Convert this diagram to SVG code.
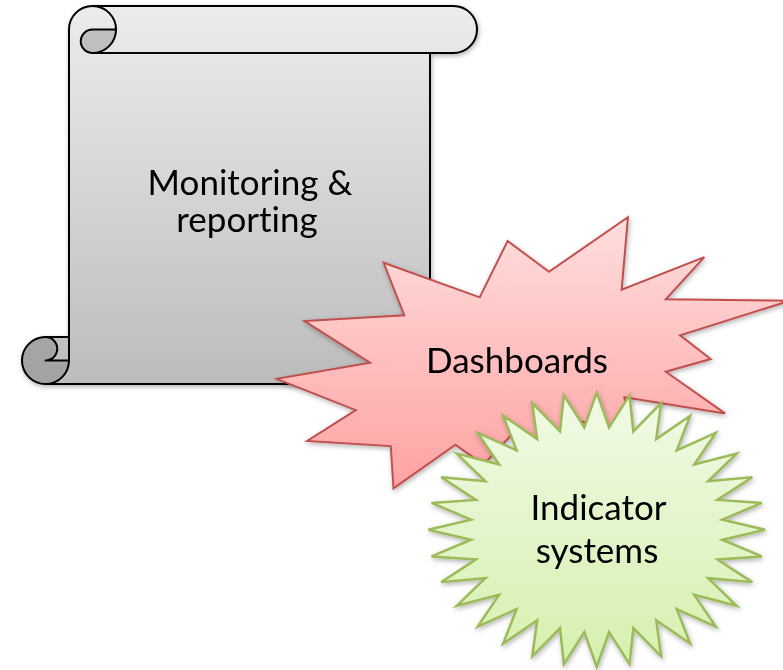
<svg xmlns="http://www.w3.org/2000/svg" width="783" height="670" viewBox="0 0 783 670">
<defs>
<style>
.lbl{font-family:Lato,"Liberation Sans",sans-serif;font-size:35px;fill:#000;text-anchor:middle;font-variant-ligatures:none;font-feature-settings:"liga" 0,"dlig" 0}
.ol{fill:none;stroke:#000;stroke-width:2;stroke-linejoin:round}
</style>
<linearGradient id="gScroll" x1="0" y1="6" x2="0" y2="384" gradientUnits="userSpaceOnUse">
<stop offset="0" stop-color="#ECECEC"/><stop offset="1" stop-color="#BCBCBC"/>
</linearGradient>
<linearGradient id="gCurl" x1="0" y1="6" x2="0" y2="384" gradientUnits="userSpaceOnUse">
<stop offset="0" stop-color="#C2C2C2"/><stop offset="1" stop-color="#A2A2A2"/>
</linearGradient>
<linearGradient id="gRed" x1="0" y1="0" x2="0" y2="1">
<stop offset="0" stop-color="#FFDEDE"/><stop offset="1" stop-color="#FFA2A2"/>
</linearGradient>
<linearGradient id="gGreen" x1="0" y1="0" x2="0" y2="1">
<stop offset="0" stop-color="#F1FAE6"/><stop offset="1" stop-color="#D5F0AE"/>
</linearGradient>
<filter id="sh" x="-10%" y="-10%" width="120%" height="125%">
<feDropShadow dx="1" dy="2" stdDeviation="2.5" flood-color="#000" flood-opacity="0.3"/>
</filter>
</defs>

<g id="scroll" filter="url(#sh)">
<path d="M45.5,384 A23.5,23.5 0 0 0 69,360.5 L45.5,360.5 A11.75,11.75 0 0 0 45.5,337 L69,337 L69,29.5 A23.5,23.5 0 0 1 92.5,6 L453.5,6 A23.5,23.5 0 0 1 453.5,53 L430,53 L430,384 Z" fill="url(#gScroll)"/>
<path d="M92.5,29.5 L116,29.5 A23.5,23.5 0 0 1 92.5,53 A11.75,11.75 0 0 1 92.5,29.5 Z" fill="url(#gCurl)"/>
<path d="M45.5,337 A23.5,23.5 0 1 0 69,360.5 L45.5,360.5 A11.75,11.75 0 0 0 45.5,337 Z" fill="url(#gCurl)"/>
<path class="ol" d="M45.5,384 A23.5,23.5 0 0 0 69,360.5 L45.5,360.5 A11.75,11.75 0 0 0 45.5,337 L69,337 L69,29.5 A23.5,23.5 0 0 1 92.5,6 L453.5,6 A23.5,23.5 0 0 1 453.5,53 L430,53 L430,384 Z"/>
<path class="ol" d="M45.5,337 A23.5,23.5 0 0 0 45.5,384 M69,337 L69,360.5 M92.5,6 A23.5,23.5 0 0 1 92.5,53 L430,53 M92.5,29.5 L116,29.5 M92.5,29.5 A11.75,11.75 0 0 0 92.5,53"/>
<text class="lbl" x="250" y="195">Monitoring &amp;</text>
<text class="lbl" x="247" y="231.5">reporting</text>
</g>

<g id="dashboards" filter="url(#sh)">
<polygon transform="translate(276.7,217.3) scale(0.02375,0.012546)" vector-effect="non-scaling-stroke" fill="url(#gRed)" stroke="#C0504D" stroke-width="2" stroke-linejoin="miter" points="11464,4340 9722,1887 8548,6383 4503,3626 5373,7816 1174,8270 3934,11592 0,12875 3329,15372 1283,17824 4804,18239 4918,21600 7525,18125 8698,19712 9871,17371 11614,18844 12178,15937 14943,17371 14640,14348 18878,15632 16382,12311 18270,11292 16986,9404 21600,6646 16382,6533 18005,3172 14524,5778 14789,0"/>
<text class="lbl" x="517" y="373">Dashboards</text>
</g>

<g id="indicator" filter="url(#sh)">
<polygon transform="translate(596.7,529.7) scale(1.683,1.37)" vector-effect="non-scaling-stroke" fill="url(#gGreen)" stroke="#9BBB59" stroke-width="2.5" points="0,-100 7.35,-74.64 19.51,-98.08 21.77,-71.77 38.27,-92.39 35.36,-66.14 55.56,-83.15 47.58,-57.98 70.71,-70.71 57.98,-47.58 83.15,-55.56 66.14,-35.36 92.39,-38.27 71.77,-21.77 98.08,-19.51 74.64,-7.35 100,0 74.64,7.35 98.08,19.51 71.77,21.77 92.39,38.27 66.14,35.36 83.15,55.56 57.98,47.58 70.71,70.71 47.58,57.98 55.56,83.15 35.36,66.14 38.27,92.39 21.77,71.77 19.51,98.08 7.35,74.64 0,100 -7.35,74.64 -19.51,98.08 -21.77,71.77 -38.27,92.39 -35.36,66.14 -55.56,83.15 -47.58,57.98 -70.71,70.71 -57.98,47.58 -83.15,55.56 -66.14,35.36 -92.39,38.27 -71.77,21.77 -98.08,19.51 -74.64,7.35 -100,0 -74.64,-7.35 -98.08,-19.51 -71.77,-21.77 -92.39,-38.27 -66.14,-35.36 -83.15,-55.56 -57.98,-47.58 -70.71,-70.71 -47.58,-57.98 -55.56,-83.15 -35.36,-66.14 -38.27,-92.39 -21.77,-71.77 -19.51,-98.08 -7.35,-74.64"/>
<text class="lbl" x="598.5" y="520">Indicator</text>
<text class="lbl" x="597" y="563">systems</text>
</g>
</svg>
